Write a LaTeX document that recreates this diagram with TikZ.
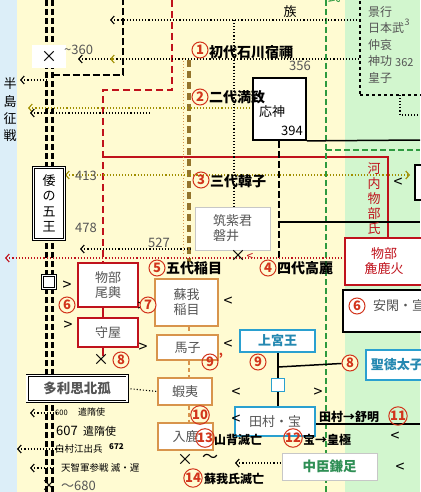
\documentclass[tikz,border=0pt]{standalone}
\usepackage{fontspec}
\setmainfont{Noto Sans CJK JP}
\usetikzlibrary{arrows.meta,backgrounds}
\definecolor{bgyellow}{HTML}{FFFBD2}
\definecolor{bgblue}{HTML}{DCEEF8}
\definecolor{bggreen}{HTML}{D2F6CE}
\definecolor{clanred}{HTML}{C0121C}
\definecolor{numred}{HTML}{D2341C}
\definecolor{sogatan}{HTML}{D8944C}
\definecolor{sogabrown}{HTML}{94742C}
\definecolor{arrowolive}{HTML}{A08E00}
\definecolor{princeblue}{HTML}{2AA0D0}
\definecolor{nakagreen}{HTML}{2F8F55}
\definecolor{boxgray}{HTML}{555555}
\definecolor{clangreen}{HTML}{2E9A40}

\begin{document}
\begin{tikzpicture}[x=1pt,y=-1pt,>={Straight Barb[length=3.5pt,width=8pt]},
every node/.style={inner sep=1pt,font=\fontsize{13}{15}\selectfont},
lbl/.style={anchor=west,font=\fontsize{14}{15}\selectfont\bfseries},
num/.style={circle,draw=numred,text=numred,line width=1pt,inner sep=0pt,minimum size=16pt,font=\fontsize{13}{13}\selectfont\bfseries},
wabox/.style={draw,double,double distance=1.4pt,line width=0.8pt,fill=white,align=center},
redbox/.style={draw=clanred,line width=1.4pt,fill=white,text=boxgray,align=center},
sogabox/.style={draw=sogatan,line width=1.4pt,fill=white,text=boxgray,align=center},
bluebox/.style={draw=princeblue,line width=1.6pt,fill=white,text=princeblue!85!black,align=center,font=\fontsize{13}{15}\selectfont\bfseries},
kingbox/.style={draw,line width=1.8pt,fill=white},
sym/.style={font=\fontsize{16}{16}\selectfont},
dotline/.style={dotted,line width=1.1pt},
smalltxt/.style={anchor=west,font=\fontsize{9.5}{11}\selectfont}
]
\useasboundingbox (0,0) rectangle (420,492);

% boxes of the Wa kings
\node[wabox,minimum width=31pt,minimum height=72pt,inner sep=0pt,font=\fontsize{13}{15.5}\selectfont] (wa) at (49,203.5) {倭\\の\\五\\王};
\node[wabox,minimum size=13pt,inner sep=0pt] (wasq) at (49,282) {};
\node[wabox,minimum width=100pt,minimum height=26pt,text=boxgray,font=\fontsize{13.5}{15}\selectfont\bfseries] (tarishi) at (77,388.5) {多利思北孤};

% Mononobe
\node[redbox,minimum width=60pt,minimum height=44pt] (okoshi) at (108,285) {物部\\尾輿};
\node[redbox,minimum width=60pt,minimum height=29pt] (moriya) at (108,332.5) {守屋};
\node[redbox,minimum width=78pt,minimum height=47pt,text=clanred] (araka) at (384,261.5) {物部\\麁鹿火};

% Soga
\node[sogabox,minimum width=63pt,minimum height=47pt] (iname) at (186.5,302.5) {蘇我\\稲目};
\node[sogabox,minimum width=61pt,minimum height=25pt] (umako) at (187.5,347.5) {馬子};
\node[sogabox,minimum width=54pt,minimum height=27pt] (emishi) at (185,391.5) {蝦夷};
\node[sogabox,minimum width=55pt,minimum height=27pt] (iruka) at (185.5,436.5) {入鹿};

% others
\node[draw=black!22,line width=1pt,fill=white,text=boxgray,align=left,minimum width=75pt,minimum height=43pt] (iwai) at (232.5,228.5) {筑紫君\\磐井};
\node[kingbox,minimum width=53pt,minimum height=62pt] (ojin) at (279.5,109) {};
\node[anchor=west] (ojinname) at (258,112) {応神};
\node (ojinyear) at (292,131) {394};
\node[draw,dashed,line width=1.8pt,minimum width=70pt,minimum height=100pt] (keiko) at (395,45) {};
\node[anchor=north west,align=left,text=boxgray,font=\fontsize{12}{16.5}\selectfont] (keikolist) at (367,5) {景行\\日本武\\仲哀\\神功\\皇子};
\node[font=\fontsize{9}{9}\selectfont,text=boxgray] (keikoyr1) at (407,22) {3};
\node[anchor=west,font=\fontsize{11}{11}\selectfont,text=boxgray] (keikoyr2) at (394,63) {362};
\node[kingbox,minimum width=20pt,minimum height=35pt] (rightbox) at (425,182.5) {};
\node[kingbox,minimum width=82pt,minimum height=42pt] (ankan) at (384,311) {};
\node[num] (n6b) at (357,306) {6};
\node[anchor=west,text=boxgray] (ankanname) at (372,306) {安閑・宣化};

% princes
\node[bluebox,minimum width=75pt,minimum height=22pt] (kamitsu) at (277.5,341) {上宮王};
\node[bluebox,minimum width=62pt,minimum height=30pt,anchor=west] (shotoku) at (365,365) {聖徳太子};
\node[draw=princeblue,line width=1.3pt,fill=white,minimum size=13pt,inner sep=0pt] (jct) at (278,385) {};
\node[draw=princeblue,line width=1.6pt,fill=white,text=boxgray,minimum width=80pt,minimum height=29pt] (tamura) at (275,421.5) {田村・宝};
\node[draw=black!22,line width=1pt,fill=white,text=nakagreen,minimum width=95pt,minimum height=27pt,font=\fontsize{13.5}{15}\selectfont\bfseries] (kamatari) at (329.5,466.5) {中臣鎌足};
\node[num,fill=bgyellow] (n8b) at (350,363) {8};

% junction points
\coordinate (dblTopL) at (46.5,0);
\coordinate (dblTopR) at (52.5,0);
\coordinate (dblBotL) at (46.5,492);
\coordinate (dblBotR) at (52.5,492);
\coordinate (kingTop) at (123,0);
\coordinate (redTop) at (172,0);
\coordinate (redBend) at (103,90);
\coordinate (redJoin) at (103,157);
\coordinate (greenTop) at (326,0);
\coordinate (greenBot) at (326,492);
\coordinate (sogaTop) at (189,60);
\coordinate (sogaEnd) at (189,262);
\coordinate (tanTop) at (183,58);
\coordinate (tanEnd) at (183,255);

\begin{scope}[on background layer]
\fill[bgyellow] (0,0) rectangle (420,492);
\fill[bgblue] (0,0) rectangle (17,492);
\fill[bggreen] (345,0) rectangle (420,492);
% lines
\draw[line width=2.2pt,dash pattern=on 6pt off 3pt] (dblTopL) -- (dblBotL);
\draw[line width=2.2pt,dash pattern=on 6pt off 3pt] (dblTopR) -- (dblBotR);
\draw[line width=2.2pt,dash pattern=on 7pt off 3pt] (dblTopR |- 0,75) -- (kingTop |- 0,75) -- (kingTop);
\draw[clanred,line width=2.2pt,dash pattern=on 7pt off 4pt] (redTop) -- (redTop |- redBend) -- (redBend) -- (okoshi.north -| redBend);
\draw[clanred,line width=2pt] (okoshi.south -| redBend) -- (moriya.north -| redBend);
\draw[clanred,line width=2pt] (moriya.south -| redBend) -- ++(0,8);
\draw[clanred,line width=1.8pt] (redJoin) -- (redJoin -| 388,0) -- (araka.north -| 388,0);
\draw[clangreen,line width=1.8pt,dash pattern=on 6pt off 3pt] (greenTop) -- (greenBot);
\draw[clangreen,line width=1.8pt,dash pattern=on 6pt off 3pt] (greenTop |- 0,150) -- (420,150);
\draw[sogabrown,line width=4.5pt,dash pattern=on 7pt off 4pt] (sogaTop) -- (sogaEnd);
\draw[sogatan,dotted,line width=1pt] (tanTop) -- (tanEnd);
\foreach \a/\b in {iname/umako,umako/emishi,emishi/iruka}
  \draw[sogatan,line width=1.8pt,dash pattern=on 4pt off 3pt] (\a.south -| sogaTop) -- (\b.north -| sogaTop);
\draw[line width=2.2pt,dash pattern=on 7pt off 3pt] (ojin.south -| 279,0) -- (279,260);
\draw[line width=1.5pt] (279,222) -- (420,222);
\draw[line width=1.5pt] (ojin.south east) -- (420,140);
\draw[line width=1.5pt] (kamitsu.south -| jct) -- (jct.north);
\draw[line width=1.5pt] (jct.south) -- (tamura.north -| jct);
\draw[line width=1.5pt] (278,367) -- (n8b);
\draw[line width=1.5pt] (tamura.east |- 0,424) -- (420,424);
% dotted arrows
\draw[dotline,<-] (110,20) -- (keiko.west |- 0,20);
\draw[dotline,<-] (78,59) -- (keiko.west |- 0,59);
\draw[arrowolive,line width=1.1pt,<-] (110,59) -- (114,59);
\draw[dotline,<-] (20,80) -- (dblTopL |- 0,80);
\draw[dotline,arrowolive,<-] (28,108) -- (ojin.west |- 0,108);
\draw[dotline,<-] (30,113) -- (150,113);
\draw[dotline,arrowolive,<->] (65,175) -- (410,175);
\draw[dotline,<-] (80,249) -- (190,249);
\draw[dotline,clanred,<-] (5,258) -- (araka.west |- 0,258);
\draw[dotline] (234,20) -- (iwai.north -| 234,0);
\draw[dotline] (tarishi.east) -- (emishi.west);
\draw[dotline,<-] (30,413) -- (57,413);
\draw[dotline,<-] (17,449) -- (62,449);
\draw[dotline,<-] (30,468) -- (55,468);
\draw[dotline,<-] (235,463) -- (kamatari.west |- 0,463);
\draw[dotline] (400,95) -- (400,115) -- (420,115);
\end{scope}

% left strip
\node (hanto) at (10,84) {半};
\node (hanto2) at (10,102) {島};
\node (seisen) at (10,119) {征};
\node (seisen2) at (10,136) {戦};

% marks and labels
\node[fill=white,minimum width=34pt,minimum height=23pt] (batsu360) at (49,56.5) {};
\node[sym] (x360) at (49,57) {×};
\node[anchor=west,text=boxgray] (y360) at (63,50) {\textasciitilde360};
\node[num] (n1) at (200,50) {1};
\node[lbl] (ishikawa) at (208,52) {初代石川宿禰};
\node[text=boxgray] (y356) at (300,66) {356};
\node (zoku) at (290,12) {族};
\node[text=clangreen] (uji) at (334,-3) {氏};
\node[num] (n2) at (200,97) {2};
\node[lbl] (machi) at (208,97) {二代満致};
\node[num] (n3) at (201,180) {3};
\node[lbl] (karako) at (209,181) {三代韓子};
\node[anchor=west,text=boxgray] (y413) at (74,176) {413};
\node[anchor=west,text=boxgray] (y478) at (74,228) {478};
\node[anchor=west,text=boxgray] (y527) at (147,243) {527};
\node[text=clanred,align=center,font=\fontsize{13}{15}\selectfont] (kawachi) at (374,199) {河\\内\\物\\部\\氏};
\node[sym] (lt0) at (398,183) {<};
\node[sym] (x4) at (238,256) {×};
\node[text=clanred,font=\fontsize{12}{12}\selectfont] (rlt) at (250,257) {<};
\node[num] (n4) at (268,268) {4};
\node[lbl] (koma) at (276,268) {四代高麗};
\node[num] (n5) at (157,268) {5};
\node[lbl] (iname5) at (165,268) {五代稲目};
\node[sym] (gt1) at (67,286) {>};
\node[num] (n6) at (67,305) {6};
\node[sym] (gt2) at (68,326) {>};
\node[sym] (x8) at (101,360) {×};
\node[num] (n8) at (121,360) {8};
\node[sym] (gt3) at (142,307) {>};
\node[num,fill=bgyellow] (n7) at (148,305) {7};
\node[sym] (lt1) at (228,302) {<};
\node[sym] (gt4) at (143,348) {>};
\node[sym] (lt2) at (228,345) {<};
\node[num] (n9p) at (210,362) {9};
\node[text=numred,font=\fontsize{13}{13}\selectfont\bfseries] (n9pp) at (221,358) {'};
\node[num] (n9) at (258,362) {9};
\node[sym] (lt3) at (236,393) {<};
\node[num] (n10) at (200,415) {10};
\node[sym] (lt4) at (236,420) {<};
\node[num] (n13) at (205,438) {13};
\node[lbl,font=\fontsize{12}{13}\selectfont\bfseries] (yamashiro) at (213,440) {山背滅亡};
\node[sym] (gt5) at (318,393) {>};
\node[lbl,font=\fontsize{12}{13}\selectfont\bfseries] (jomei) at (318,417) {田村→舒明};
\node[num] (n11) at (398,416) {11};
\node[num] (n12) at (293,438) {12};
\node[lbl,font=\fontsize{12}{13}\selectfont\bfseries] (kogyoku) at (302,440) {宝→皇極};
\node[sym] (lt5) at (395,437) {<};
\node[sym] (lt6) at (400,468) {<};
\node[sym] (x14) at (185,460) {×};
\node[sym] (nami) at (210,458) {～};
\node[num] (n14) at (193,478) {14};
\node[lbl,font=\fontsize{12}{13}\selectfont\bfseries] (sogametsu) at (203,479) {蘇我氏滅亡};

% bottom left notes
\node[anchor=west,font=\fontsize{7.5}{9}\selectfont] (y600) at (54,413) {600};
\node[smalltxt,font=\fontsize{9}{11}\selectfont] (kenzui1) at (77,412) {遣隋使};
\node[anchor=west] (y607) at (55,431) {607};
\node[anchor=west,font=\fontsize{11}{12}\selectfont] (kenzui2) at (82,431) {遣隋使};
\node[smalltxt] (hakuson) at (54,449) {白村江出兵};
\node[anchor=west,font=\fontsize{8}{9}\selectfont\bfseries] (y672) at (108,447) {672};
\node[smalltxt] (tenchi) at (60,468) {天智軍参戦 滅・遅};
\node[sym] (x680) at (49,486) {×};
\node[anchor=west,text=boxgray] (y680) at (60,486) {～680};
\end{tikzpicture}
\end{document}
